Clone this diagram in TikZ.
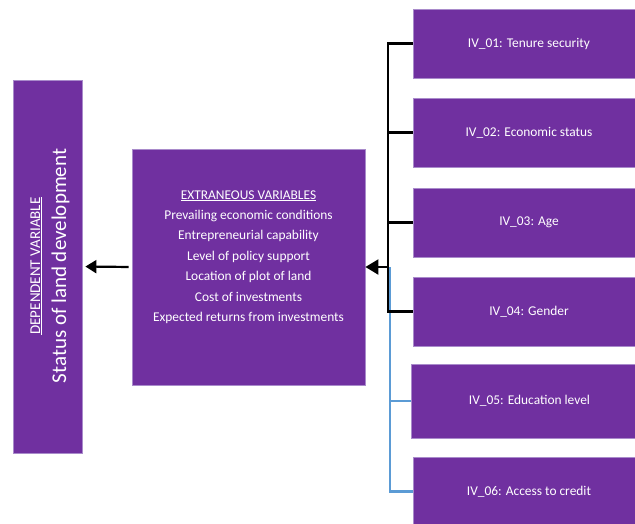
\documentclass[tikz,border=0pt]{standalone}
\usepackage{fontspec}
\setmainfont{Carlito}
\usetikzlibrary{arrows.meta}
\definecolor{boxpurple}{HTML}{7030A0}
\definecolor{boxedge}{HTML}{A98BCB}
\definecolor{linkblue}{HTML}{5B9BD5}
\begin{document}
\begin{tikzpicture}[x=1pt,y=-1pt,
  pbox/.style={fill=boxpurple, draw=boxedge, line width=0.8pt, inner sep=0pt, text=white,
    font=\fontsize{13.4}{20.4}\selectfont},
  ivbox/.style={pbox, minimum width=232pt, minimum height=69pt},
  blackline/.style={draw=black, line width=2.2pt},
  blueline/.style={draw=linkblue, line width=2.2pt},
  bigarrow/.style={-{Triangle[length=11pt,width=14pt]}, draw=black, line width=2.2pt}
]
\clip (0,0) rectangle (635,523);
\fill[white] (0,0) rectangle (635,523);

% dependent variable
\node[pbox, minimum width=69pt, minimum height=373pt] (dep) at (47.5,266.5) {};
\node[rotate=90, align=center, text=white, inner sep=0pt,
  font=\fontsize{21}{26}\selectfont] (deptext) at (50,266)
  {{\fontsize{15}{17}\selectfont\underline{DEPENDENT VARIABLE}}\\Status of land development};

% extraneous variables
\node[pbox, minimum width=233pt, minimum height=236pt] (mid) at (248.5,267) {};
\node[align=center, text=white, inner sep=0pt,
  font=\fontsize{13.4}{20.4}\selectfont] (midtext) at (248.5,257)
  {\underline{EXTRANEOUS VARIABLES}\\
   Prevailing economic conditions\\
   Entrepreneurial capability\\
   Level of policy support\\
   Location of plot of land\\
   Cost of investments\\
   Expected returns from investments};

% independent variables
\node[ivbox] (iv1) at (529,43.5) {IV\_01: Tenure security};
\node[ivbox] (iv2) at (529,132.5) {IV\_02: Economic status};
\node[ivbox] (iv3) at (529,222.5) {IV\_03: Age};
\node[ivbox] (iv4) at (529,311.5) {IV\_04: Gender};
\node[ivbox, minimum width=237pt, minimum height=74pt] (iv5) at (529.5,401) {IV\_05: Education level};
\node[ivbox] (iv6) at (529,491.5) {IV\_06: Access to credit};

% bus coordinates
\coordinate (busb) at (388,267);
\coordinate (busl) at (390,267);

% blue connectors
\draw[blueline] (busl) -- (iv6.west -| busl) -- (iv6.west);
\draw[blueline] (iv5.west -| busl) -- (iv5.west);

% black connectors
\draw[blackline] (iv1.west) -- (iv1.west -| busb) -- (iv4.west -| busb) -- (iv4.west);
\draw[blackline] (iv2.west -| busb) -- (iv2.west);
\draw[blackline] (iv3.west -| busb) -- (iv3.west);

% arrows
\draw[bigarrow, -{Triangle[length=13pt,width=15pt]}] (busb) -- (mid.east);
\draw[bigarrow, -{Triangle[length=11pt,width=13pt]}, shorten <=3pt, shorten >=3pt] (mid.west) -- (dep.east);
\end{tikzpicture}
\end{document}
